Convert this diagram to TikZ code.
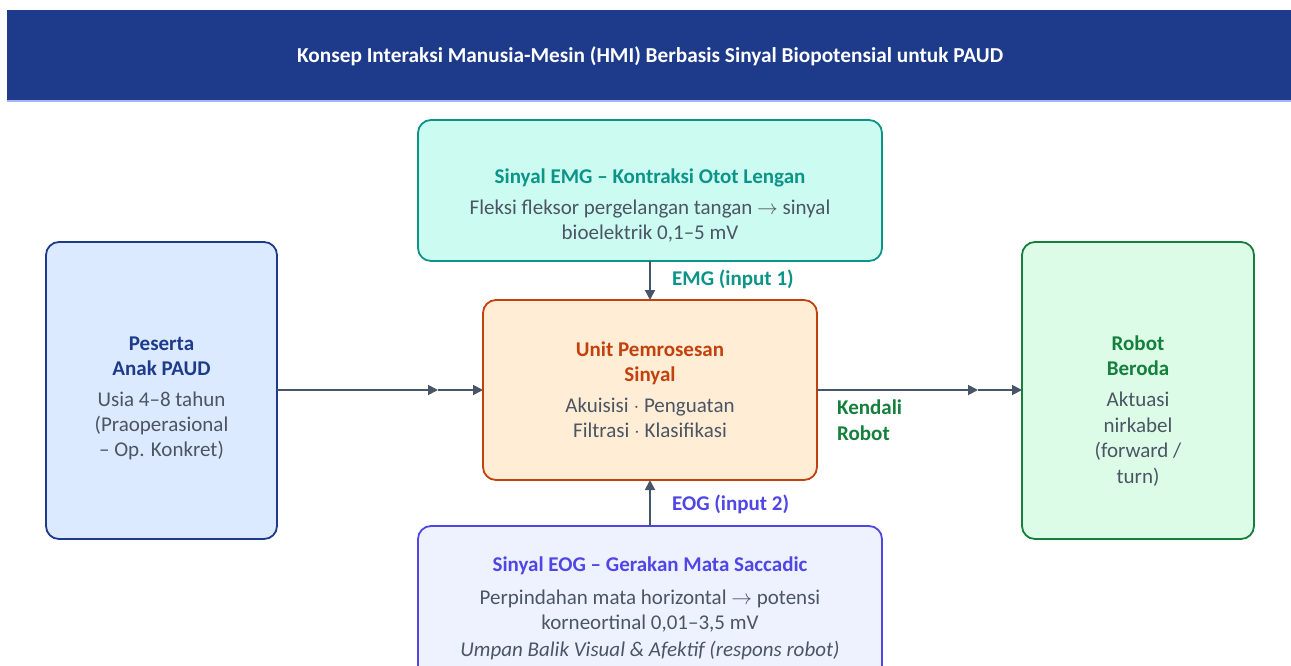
\documentclass[tikz,border=0pt]{standalone}
\usepackage{fontspec}
\setmainfont{Carlito}
\usetikzlibrary{arrows.meta,positioning}
\definecolor{bannerColor}{HTML}{1E3A8A}
\definecolor{bannerEdge}{HTML}{A5B4FC}
\definecolor{bodyColor}{HTML}{4B5563}
\definecolor{arrColor}{HTML}{475569}
\definecolor{emgFill}{HTML}{CCFBF1}
\definecolor{emgColor}{HTML}{0D9488}
\definecolor{pesFill}{HTML}{DBEAFE}
\definecolor{pesColor}{HTML}{1E3A8A}
\definecolor{unitFill}{HTML}{FFEDD5}
\definecolor{unitColor}{HTML}{C2410C}
\definecolor{robFill}{HTML}{DCFCE7}
\definecolor{robColor}{HTML}{15803D}
\definecolor{eogFill}{HTML}{EEF2FF}
\definecolor{eogColor}{HTML}{4F46E5}
\newcommand{\ttl}[2]{\textcolor{#1}{\textbf{#2}}}
\tikzset{
	box/.style={draw, rounded corners=13pt, line width=1.8pt, inner sep=0, outer sep=0},
	txt/.style={align=center, inner sep=0, text=bodyColor, font=\fontsize{21}{25}\selectfont},
	lab/.style={align=left, inner sep=0, anchor=west, font=\bfseries\fontsize{21}{25.5}\selectfont},
	arr/.style={-{Triangle[length=10pt,width=10pt]}, line width=1.8pt, draw=arrColor}
}
\begin{document}
\begin{tikzpicture}[x=1pt,y=-1pt]
\useasboundingbox (0,0) rectangle (1291,665);
\fill[white] (0,0) rectangle (1291,665);
% banner
\fill[bannerColor] (7,10) rectangle (1291,101);
\draw[bannerEdge, line width=1.2pt] (7,101) -- (1291,101);
\node[text=white, font=\bfseries\fontsize{21.3}{24}\selectfont] (title) at (650,56) {Konsep Interaksi Manusia-Mesin (HMI) Berbasis Sinyal Biopotensial untuk PAUD};
% boxes
\node[box, draw=emgColor, fill=emgFill, minimum width=464pt, minimum height=141pt] (emg) at (650,190.5) {};
\node[box, draw=pesColor, fill=pesFill, minimum width=231pt, minimum height=297pt] (pes) at (161.5,390.5) {};
\node[box, draw=unitColor, fill=unitFill, minimum width=334pt, minimum height=180pt] (unit) at (650,390) {};
\node[box, draw=robColor, fill=robFill, minimum width=232pt, minimum height=297pt] (rob) at (1138,390.5) {};
\node[box, draw=eogColor, fill=eogFill, minimum width=464pt, minimum height=156pt] (eog) at (650,604) {};
% texts
\node[txt] (emg_t) at (650,205) {\ttl{emgColor}{Sinyal EMG -- Kontraksi Otot Lengan}\\[6pt]
	Fleksi fleksor pergelangan tangan $\rightarrow$ sinyal\\ bioelektrik 0,1--5 mV};
\node[txt] (pes_t) at (161.5,398.5) {\ttl{pesColor}{Peserta}\\ \ttl{pesColor}{Anak PAUD}\\[6pt]
	Usia 4--8 tahun\\ (Praoperasional\\ -- Op. Konkret)};
\node[txt] (unit_t) at (650,389.5) {\ttl{unitColor}{Unit Pemrosesan}\\ \ttl{unitColor}{Sinyal}\\[6pt]
	Akuisisi $\cdot$ Penguatan\\ Filtrasi $\cdot$ Klasifikasi};
\node[txt, font=\fontsize{21}{25.7}\selectfont] (rob_t) at (1138,411) {\ttl{robColor}{Robot}\\ \ttl{robColor}{Beroda}\\[5pt]
	Aktuasi\\ nirkabel\\ (forward /\\ turn)};
\node[txt] (eog_t) at (650,608) {\ttl{eogColor}{Sinyal EOG -- Gerakan Mata Saccadic}\\[8pt]
	Perpindahan mata horizontal $\rightarrow$ potensi\\ korneortinal 0,01--3,5 mV\\[2pt]
	\textit{Umpan Balik Visual \& Afektif (respons robot)}};
% connectors
\coordinate (lmid) at (438,390);
\coordinate (rmid) at (978,390);
\draw[arr] (pes.east |- lmid) -- (lmid);
\draw[arr] (lmid) -- (unit.west |- lmid);
\draw[arr] (unit.east |- rmid) -- (rmid);
\draw[arr] (rmid) -- (rob.west |- rmid);
\draw[arr] (emg.south) -- (unit.north);
\draw[arr] (eog.north) -- (unit.south);
\node[lab, text=emgColor] (emg_l) at (672,279) {EMG (input 1)};
\node[lab, text=eogColor] (eog_l) at (672,504) {EOG (input 2)};
\node[lab, text=robColor] (rob_l) at (837,420) {Kendali\\ Robot};
\end{tikzpicture}
\end{document}
